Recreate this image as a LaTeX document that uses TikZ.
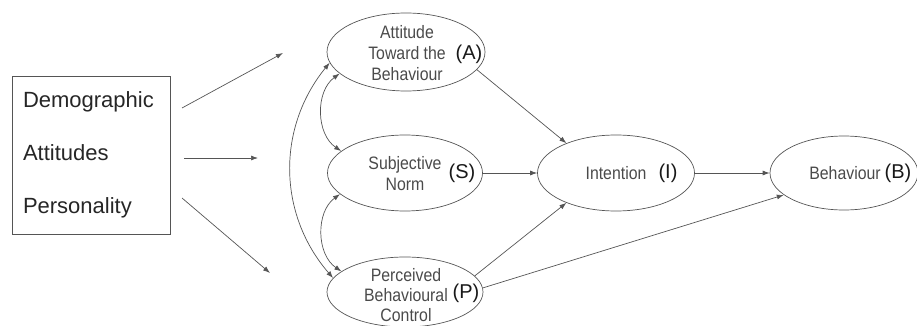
\documentclass[tikz,border=0pt]{standalone}
\usepackage{fontspec}
\setmainfont{Liberation Sans}
\newfontfamily\narrowfont[FakeStretch=0.88]{Liberation Sans}
\usepackage{xcolor}
\usepackage{tikz}
\usetikzlibrary{arrows.meta,positioning,shapes.geometric,calc}
\definecolor{linegray}{HTML}{555555}
\definecolor{textgray}{HTML}{4A4A4A}

\begin{document}
\begin{tikzpicture}[x=1pt,y=-1pt,
  factors/.style={rectangle,draw=linegray,line width=0.8pt,align=left,text width=136pt,minimum height=158pt,inner xsep=11pt,font=\fontsize{22}{53}\selectfont,text=black!85},
  oval/.style={ellipse,draw=linegray,line width=0.7pt,inner sep=0pt},
  otext/.style={align=center,font=\narrowfont\fontsize{18}{21}\selectfont,text=textgray},
  tag/.style={font=\fontsize{20}{20}\selectfont,text=black!90,inner sep=0pt},
  arr/.style={-{Latex[length=7pt,width=5pt]},draw=linegray,line width=0.7pt},
  dbl/.style={{Latex[length=7pt,width=5pt]}-{Latex[length=7pt,width=5pt]},draw=linegray,line width=0.7pt}
]
\useasboundingbox (0,0) rectangle (917,326);

% external variables
\node[factors] (ext) at (91,155) {Demographic\\Attitudes\\Personality};
\coordinate (d1) at (182,108);
\coordinate (d1end) at (283,53);
\coordinate (d2) at (184,158);
\coordinate (d2end) at (258,158);
\coordinate (d3) at (182,198);
\coordinate (d3end) at (270,273);

% belief constructs
\node[oval,minimum width=158pt,minimum height=78pt] (att) at (406,52) {};
\node[otext] (atttxt) at (407,53) {Attitude\\Toward the\\Behaviour};
\node[tag] (atttag) at (469,54) {(A)};

\node[oval,minimum width=155pt,minimum height=76pt] (sn) at (405,173) {};
\node[otext] (sntxt) at (405,174) {Subjective\\Norm};
\node[tag] (sntag) at (462,173) {(S)};

\node[oval,minimum width=156pt,minimum height=70pt] (pbc) at (405,292) {};
\node[otext,font=\narrowfont\fontsize{18}{20}\selectfont] (pbctxt) at (406,295) {Perceived\\Behavioural\\Control};
\node[tag] (pbctag) at (466,293) {(P)};

% intention and behaviour
\node[oval,minimum width=157pt,minimum height=76pt] (int) at (616,173) {};
\node[otext] (inttxt) at (616,173) {Intention};
\node[tag] (inttag) at (668,173) {(I)};

\node[oval,minimum width=148pt,minimum height=74pt] (beh) at (844,173) {};
\node[otext] (behtxt) at (845,173) {Behaviour};
\node[tag] (behtag) at (898,173) {(B)};

\draw[arr] (d1) -- (d1end);
\draw[arr] (d2) -- (d2end);
\draw[arr] (d3) -- (d3end);
\draw[dbl] (att.188) to[bend right=40] (pbc.169);
\draw[dbl] (att.198) to[bend right=55] (sn.161);
\draw[dbl] (sn.198) to[bend right=55] (pbc.162);
\draw[arr] (att.346) -- (int.149);
\draw[arr] (sn.east) -- (int.west);
\draw[arr] (pbc.13) -- (int.211);
\draw[arr] (pbc.3) -- (beh.200);
\draw[arr] (int.east) -- (beh.west);
\end{tikzpicture}
\end{document}
